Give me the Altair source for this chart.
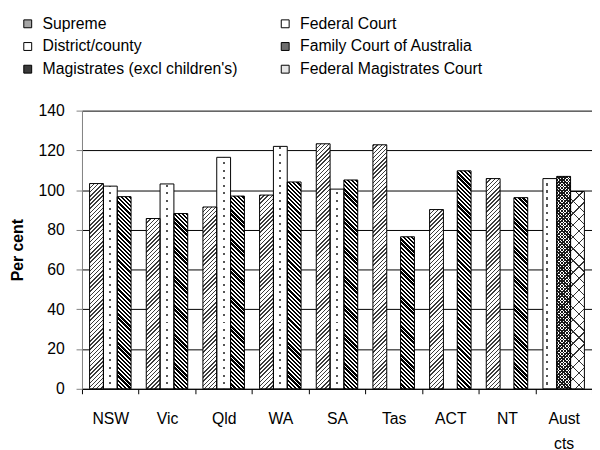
import altair as alt

# ---------------- data ----------------
states = ["NSW", "Vic", "Qld", "WA", "SA", "Tas", "ACT", "NT", "Aust cts"]
supreme = [103.3, 85.7, 91.5, 97.5, 123.3, 122.8, 90.2, 105.8, None]
district = [102.0, 103.1, 116.5, 122.0, 100.5, None, None, None, None]
magistrates = [96.7, 88.2, 97.0, 104.1, 105.1, 76.5, 109.7, 96.2, None]
federal_court = [None, None, None, None, None, None, None, None, 105.8]
family_court = [None, None, None, None, None, None, None, None, 106.9]
federal_mag = [None, None, None, None, None, None, None, None, 99.3]

series_names = ["Supreme", "District/county", "Magistrates (excl children's)",
                "Federal Court", "Family Court of Australia", "Federal Magistrates Court"]
series_values = [supreme, district, magistrates, federal_court, family_court, federal_mag]
series_slot = [0, 1, 2, 0, 1, 2]
legend_colors = ["#a6a6a6", "#ffffff", "#3a3a3a", "#ffffff", "#6e6e6e", "#e6e6e6"]

# ---------------- geometry (for pattern fills) ----------------
PLOT_W, PLOT_H = 517, 282
Y_MAX = 140
OFF_PAD = 0.55
BAR_W = PLOT_W / len(states) / (3 + 2 * OFF_PAD)
T = "rgba(255,255,255,0)"
FS = 16


def _stripes(total, k, period, line, on, off, phase=0.0):
    pts = []
    s = phase - period
    while s < total:
        a, b, c = s, s + line, s + period
        for o0, o1, col in ((a, b, on), (b, c, off)):
            lo, hi = max(o0, 0.0), min(o1, total)
            if hi > lo:
                pts.append((lo, col))
                pts.append((hi, col))
        s += period
    return [{"offset": round(min(max(o * k, 0.0), 1.0), 6), "color": col} for o, col in pts]


def diag_up(h, period, line, on, off):
    w = BAR_W
    k = w / (w * w + h * h)
    return {"gradient": "linear", "x1": 0, "y1": 0, "x2": 1, "y2": h / w,
            "stops": _stripes(w + h, k, period, line, on, off)}


def diag_down(h, period, line, on, off):
    w = BAR_W
    k = w / (w * w + h * h)
    return {"gradient": "linear", "x1": 0, "y1": 1, "x2": 1, "y2": 1 - h / w,
            "stops": _stripes(w + h, k, period, line, on, off)}


def column(h, centre, width, col):
    w = BAR_W
    a, b = (centre - width / 2) / w, (centre + width / 2) / w
    return {"gradient": "linear", "x1": 0, "y1": 0, "x2": 1, "y2": 0,
            "stops": [{"offset": 0, "color": T}, {"offset": a, "color": T},
                      {"offset": a, "color": col}, {"offset": b, "color": col},
                      {"offset": b, "color": T}, {"offset": 1, "color": T}]}


def rows(h, period, gap):
    return {"gradient": "linear", "x1": 0, "y1": 1, "x2": 0, "y2": 0,
            "stops": _stripes(h, 1.0 / h, period, gap, T, "#ffffff", phase=period * 0.6)}


def patterns(name, h):
    if name == "Supreme":
        return diag_up(h, 4.2, 1.5, "#3c3c3c", "#ffffff"), None
    if name == "District/county":
        return column(h, BAR_W * 0.5, 2.0, "#555555"), rows(h, 7.7, 2.0)
    if name == "Magistrates (excl children's)":
        return diag_down(h, 4.2, 2.3, "#000000", "#ffffff"), None
    if name == "Federal Court":
        return column(h, BAR_W * 0.3, 2.6, "#555555"), rows(h, 7.2, 2.6)
    if name == "Family Court of Australia":
        return (diag_up(h, 3.3, 1.5, "#1a1a1a", "#ffffff"),
                diag_down(h, 3.3, 1.5, "#1a1a1a", T))
    return (diag_up(h, 12.0, 1.3, "#333333", "#ffffff"),
            diag_down(h, 12.0, 1.3, "#333333", T))


records = []
for name, vals, slot in zip(series_names, series_values, series_slot):
    for st, v in zip(states, vals):
        if v is None:
            continue
        h = v * PLOT_H / Y_MAX
        g1, g2 = patterns(name, h)
        records.append({"state": st, "series": name, "slot": slot, "value": v,
                        "g1": g1, "g2": g2})

data = alt.Data(values=records)
FONT = "Liberation Sans"

x_enc = alt.X("state:N", sort=states,
              scale=alt.Scale(paddingInner=0, paddingOuter=0),
              axis=alt.Axis(title=None, labelAngle=0, labelFontSize=FS, labelColor="#000",
                            labelPadding=17, tickSize=5, tickColor="#000", tickBand="extent",
                            domainColor="#000", labelLineHeight=26,
                            labelExpr="datum.label == 'Aust cts' ? ['Aust', 'cts'] : datum.label"))
xo_enc = alt.XOffset("slot:O", scale=alt.Scale(domain=[0, 1, 2], paddingInner=0,
                                               paddingOuter=OFF_PAD))
y_enc = alt.Y("value:Q", scale=alt.Scale(domain=[0, Y_MAX], nice=False),
              axis=alt.Axis(title="Per cent", values=list(range(0, 141, 20)),
                            labelFontSize=FS, labelColor="#000", labelPadding=12,
                            tickSize=6, tickColor="#808080", domainColor="#808080",
                            grid=True, gridColor="#000", gridWidth=1,
                            titleFontSize=FS, titleFontWeight="bold", titleColor="#000",
                            titleAngle=-90, titleAlign="center", titleBaseline="middle",
                            titleX=-65, titleY=141))

base = alt.Chart(data).encode(x=x_enc, xOffset=xo_enc, y=y_enc)

solid = base.mark_bar(strokeWidth=0).encode(
    color=alt.Color("series:N",
                    scale=alt.Scale(domain=series_names, range=legend_colors),
                    legend=alt.Legend(title=None, orient="none", legendX=-63, legendY=-96,
                                      columns=2, symbolType="square", symbolSize=64,
                                      symbolStrokeColor="#000", symbolStrokeWidth=1,
                                      labelFontSize=FS, labelFont=FONT, labelColor="#000",
                                      labelLimit=0, labelOffset=7, rowPadding=7,
                                      columnPadding=40))
)
layer1 = base.mark_bar().encode(fill=alt.Fill("g1:N", scale=None)).transform_filter(
    "isValid(datum.g1)")
layer2 = base.mark_bar().encode(fill=alt.Fill("g2:N", scale=None)).transform_filter(
    "isValid(datum.g2)")
outline = base.mark_bar(filled=False, stroke="#000", strokeWidth=1)

chart = alt.layer(solid, layer1, layer2, outline).properties(
    width=PLOT_W, height=PLOT_H,
    autosize=alt.AutoSizeParams(type="none"),
    padding={"left": 75, "top": 101, "right": 0, "bottom": 59},
).configure_view(strokeWidth=0).configure_axis(
    labelFont=FONT, titleFont=FONT
).configure_legend(labelFont=FONT)

chart.save("out.html", embed_options={"renderer": "svg", "actions": False})
